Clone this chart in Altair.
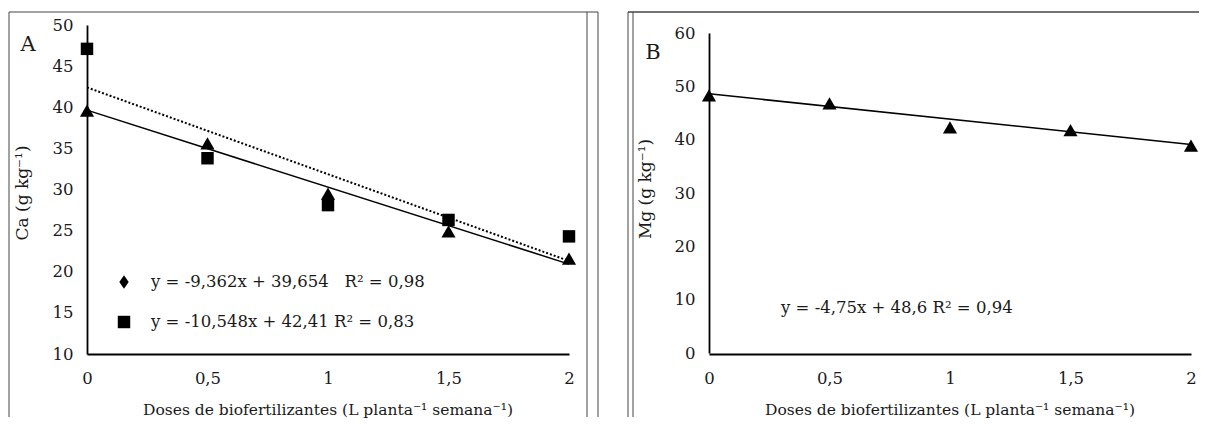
import altair as alt
import pandas as pd

# ---- data ----
doses = [0, 0.5, 1, 1.5, 2]
ca_triangle = [39.6, 35.6, 29.5, 24.9, 21.6]
ca_square = [47.1, 33.8, 28.1, 26.3, 24.3]
mg_triangle = [48.3, 46.8, 42.3, 41.8, 38.9]

fit_x = [0, 2]
ca_fit_solid = [39.654, 20.93]
ca_fit_dotted = [42.41, 21.31]
mg_fit = [48.6, 39.1]

x_ticks = [0, 0.5, 1, 1.5, 2]
ca_ticks = [10, 15, 20, 25, 30, 35, 40, 45, 50]
mg_ticks = [0, 10, 20, 30, 40, 50, 60]

NB = "\u00a0"
eq_ca1 = "y = -9,362x + 39,654" + NB * 3 + "R² = 0,98"
eq_ca2 = "y = -10,548x + 42,41 R² = 0,83"
eq_mg = "y = -4,75x + 48,6 R² = 0,94"
x_title = "Doses de biofertilizantes (L planta⁻¹ semana⁻¹)"
ca_title = "Ca (g kg⁻¹)"
mg_title = "Mg (g kg⁻¹)"

FONT = "DejaVu Serif"
INK = "#1a1a1a"
W, H = 482, 329

pts_ca = pd.DataFrame({"dose": doses * 2,
                       "value": ca_triangle + ca_square,
                       "serie": ["t"] * 5 + ["s"] * 5})
pts_mg = pd.DataFrame({"dose": doses, "value": mg_triangle})
fit_ca1 = pd.DataFrame({"dose": fit_x, "value": ca_fit_solid})
fit_ca2 = pd.DataFrame({"dose": fit_x, "value": ca_fit_dotted})
fit_mg = pd.DataFrame({"dose": fit_x, "value": mg_fit})
one = pd.DataFrame({"k": [0]})

xscale = alt.Scale(domain=[0, 2], nice=False, zero=False)


def xaxis():
    return alt.Axis(values=x_ticks, labelExpr="replace(toString(datum.value), '.', ',')",
                    ticks=False, grid=False, domainColor="black", domainWidth=1.8,
                    labelFont=FONT, labelFontSize=16.5, labelColor=INK, labelPadding=16,
                    labelFlush=False, title=None)


def yaxis(vals):
    return alt.Axis(values=vals, ticks=False, grid=False, domainColor="black", domainWidth=1.8,
                    labelFont=FONT, labelFontSize=16.5, labelColor=INK, labelPadding=14,
                    title=None)


def rule(x=None, x2=None, y=None, y2=None, color="#444", width=1):
    enc = {}
    if x is not None:
        enc["x"] = alt.value(x)
    if x2 is not None:
        enc["x2"] = alt.value(x2)
    if y is not None:
        enc["y"] = alt.value(y)
    if y2 is not None:
        enc["y2"] = alt.value(y2)
    return alt.Chart(one).mark_rule(color=color, strokeWidth=width).encode(**enc)


def label(text, x, y, size=16, angle=0, align="left"):
    return alt.Chart(one).mark_text(text=text, font=FONT, fontSize=size, color=INK,
                                    align=align, baseline="middle", angle=angle).encode(
        x=alt.value(x), y=alt.value(y))


BOTTOM = 392

# ---------------- panel A ----------------
yA = alt.Scale(domain=[10, 50], nice=False, zero=False)
baseA = alt.Chart(pts_ca)
triA = baseA.transform_filter("datum.serie == 't'").mark_point(
    shape="triangle-up", filled=True, size=200, color="black", opacity=1).encode(
    x=alt.X("dose:Q", scale=xscale, axis=xaxis()),
    y=alt.Y("value:Q", scale=yA, axis=yaxis(ca_ticks)))
sqA = baseA.transform_filter("datum.serie == 's'").mark_point(
    shape="square", filled=True, size=155, color="black", opacity=1).encode(
    x=alt.X("dose:Q", scale=xscale), y=alt.Y("value:Q", scale=yA))
lineA1 = alt.Chart(fit_ca1).mark_line(color="black", strokeWidth=1.5).encode(
    x=alt.X("dose:Q", scale=xscale), y=alt.Y("value:Q", scale=yA))
lineA2 = alt.Chart(fit_ca2).mark_line(color="black", strokeWidth=2, strokeDash=[2, 2]).encode(
    x=alt.X("dose:Q", scale=xscale), y=alt.Y("value:Q", scale=yA))

legA1 = alt.Chart(one).mark_point(shape="M0,-1L0.7,0L0,1L-0.7,0Z", filled=True, size=180,
                                  color="black", opacity=1).encode(x=alt.value(37), y=alt.value(257))
legA2 = alt.Chart(one).mark_point(shape="square", filled=True, size=155,
                                  color="black", opacity=1).encode(x=alt.value(37), y=alt.value(297))

panelA = alt.layer(
    rule(x=-78, y=-13, y2=BOTTOM),
    rule(x=-78, x2=511, y=-13),
    rule(x=500, y=-13, y2=BOTTOM),
    rule(x=511, y=-13, y2=BOTTOM),
    lineA2, lineA1, sqA, triA, legA1, legA2,
    label(eq_ca1, 64, 257, 16.5),
    label(eq_ca2, 64, 297, 16.5),
    label("A", -59, 20, 21, align="center"),
    label(ca_title, -64, 168, 17, angle=270, align="center"),
    label(x_title, W / 2, 385, 15.5, align="center"),
).properties(width=W, height=H)

# ---------------- panel B ----------------
yB = alt.Scale(domain=[0, 60], nice=False, zero=False, range=[328, 8])
triB = alt.Chart(pts_mg).mark_point(
    shape="triangle-up", filled=True, size=200, color="black", opacity=1).encode(
    x=alt.X("dose:Q", scale=xscale, axis=xaxis()),
    y=alt.Y("value:Q", scale=yB, axis=yaxis(mg_ticks)))
lineB = alt.Chart(fit_mg).mark_line(color="black", strokeWidth=1.5).encode(
    x=alt.X("dose:Q", scale=xscale), y=alt.Y("value:Q", scale=yB))

panelB = alt.layer(
    rule(x=-81, y=-13, y2=BOTTOM),
    rule(x=-76, y=-13, y2=BOTTOM),
    rule(x=-81, x2=490, y=-13, width=1.5),
    lineB, triB,
    label(eq_mg, 72, 283, 16.5),
    label("B", -56, 28, 21, align="center"),
    label(mg_title, -63, 164, 17, angle=270, align="center"),
    label(x_title, W / 2, 385, 15.5, align="center"),
).properties(width=W, height=H)

chart = alt.hconcat(panelA, panelB, spacing=140, bounds="flush").properties(
    padding={"left": 0, "top": 3, "right": 0, "bottom": 0},
    background="white",
).configure_view(stroke=None)

chart.save("out.html", embed_options={"renderer": "svg", "actions": False})
